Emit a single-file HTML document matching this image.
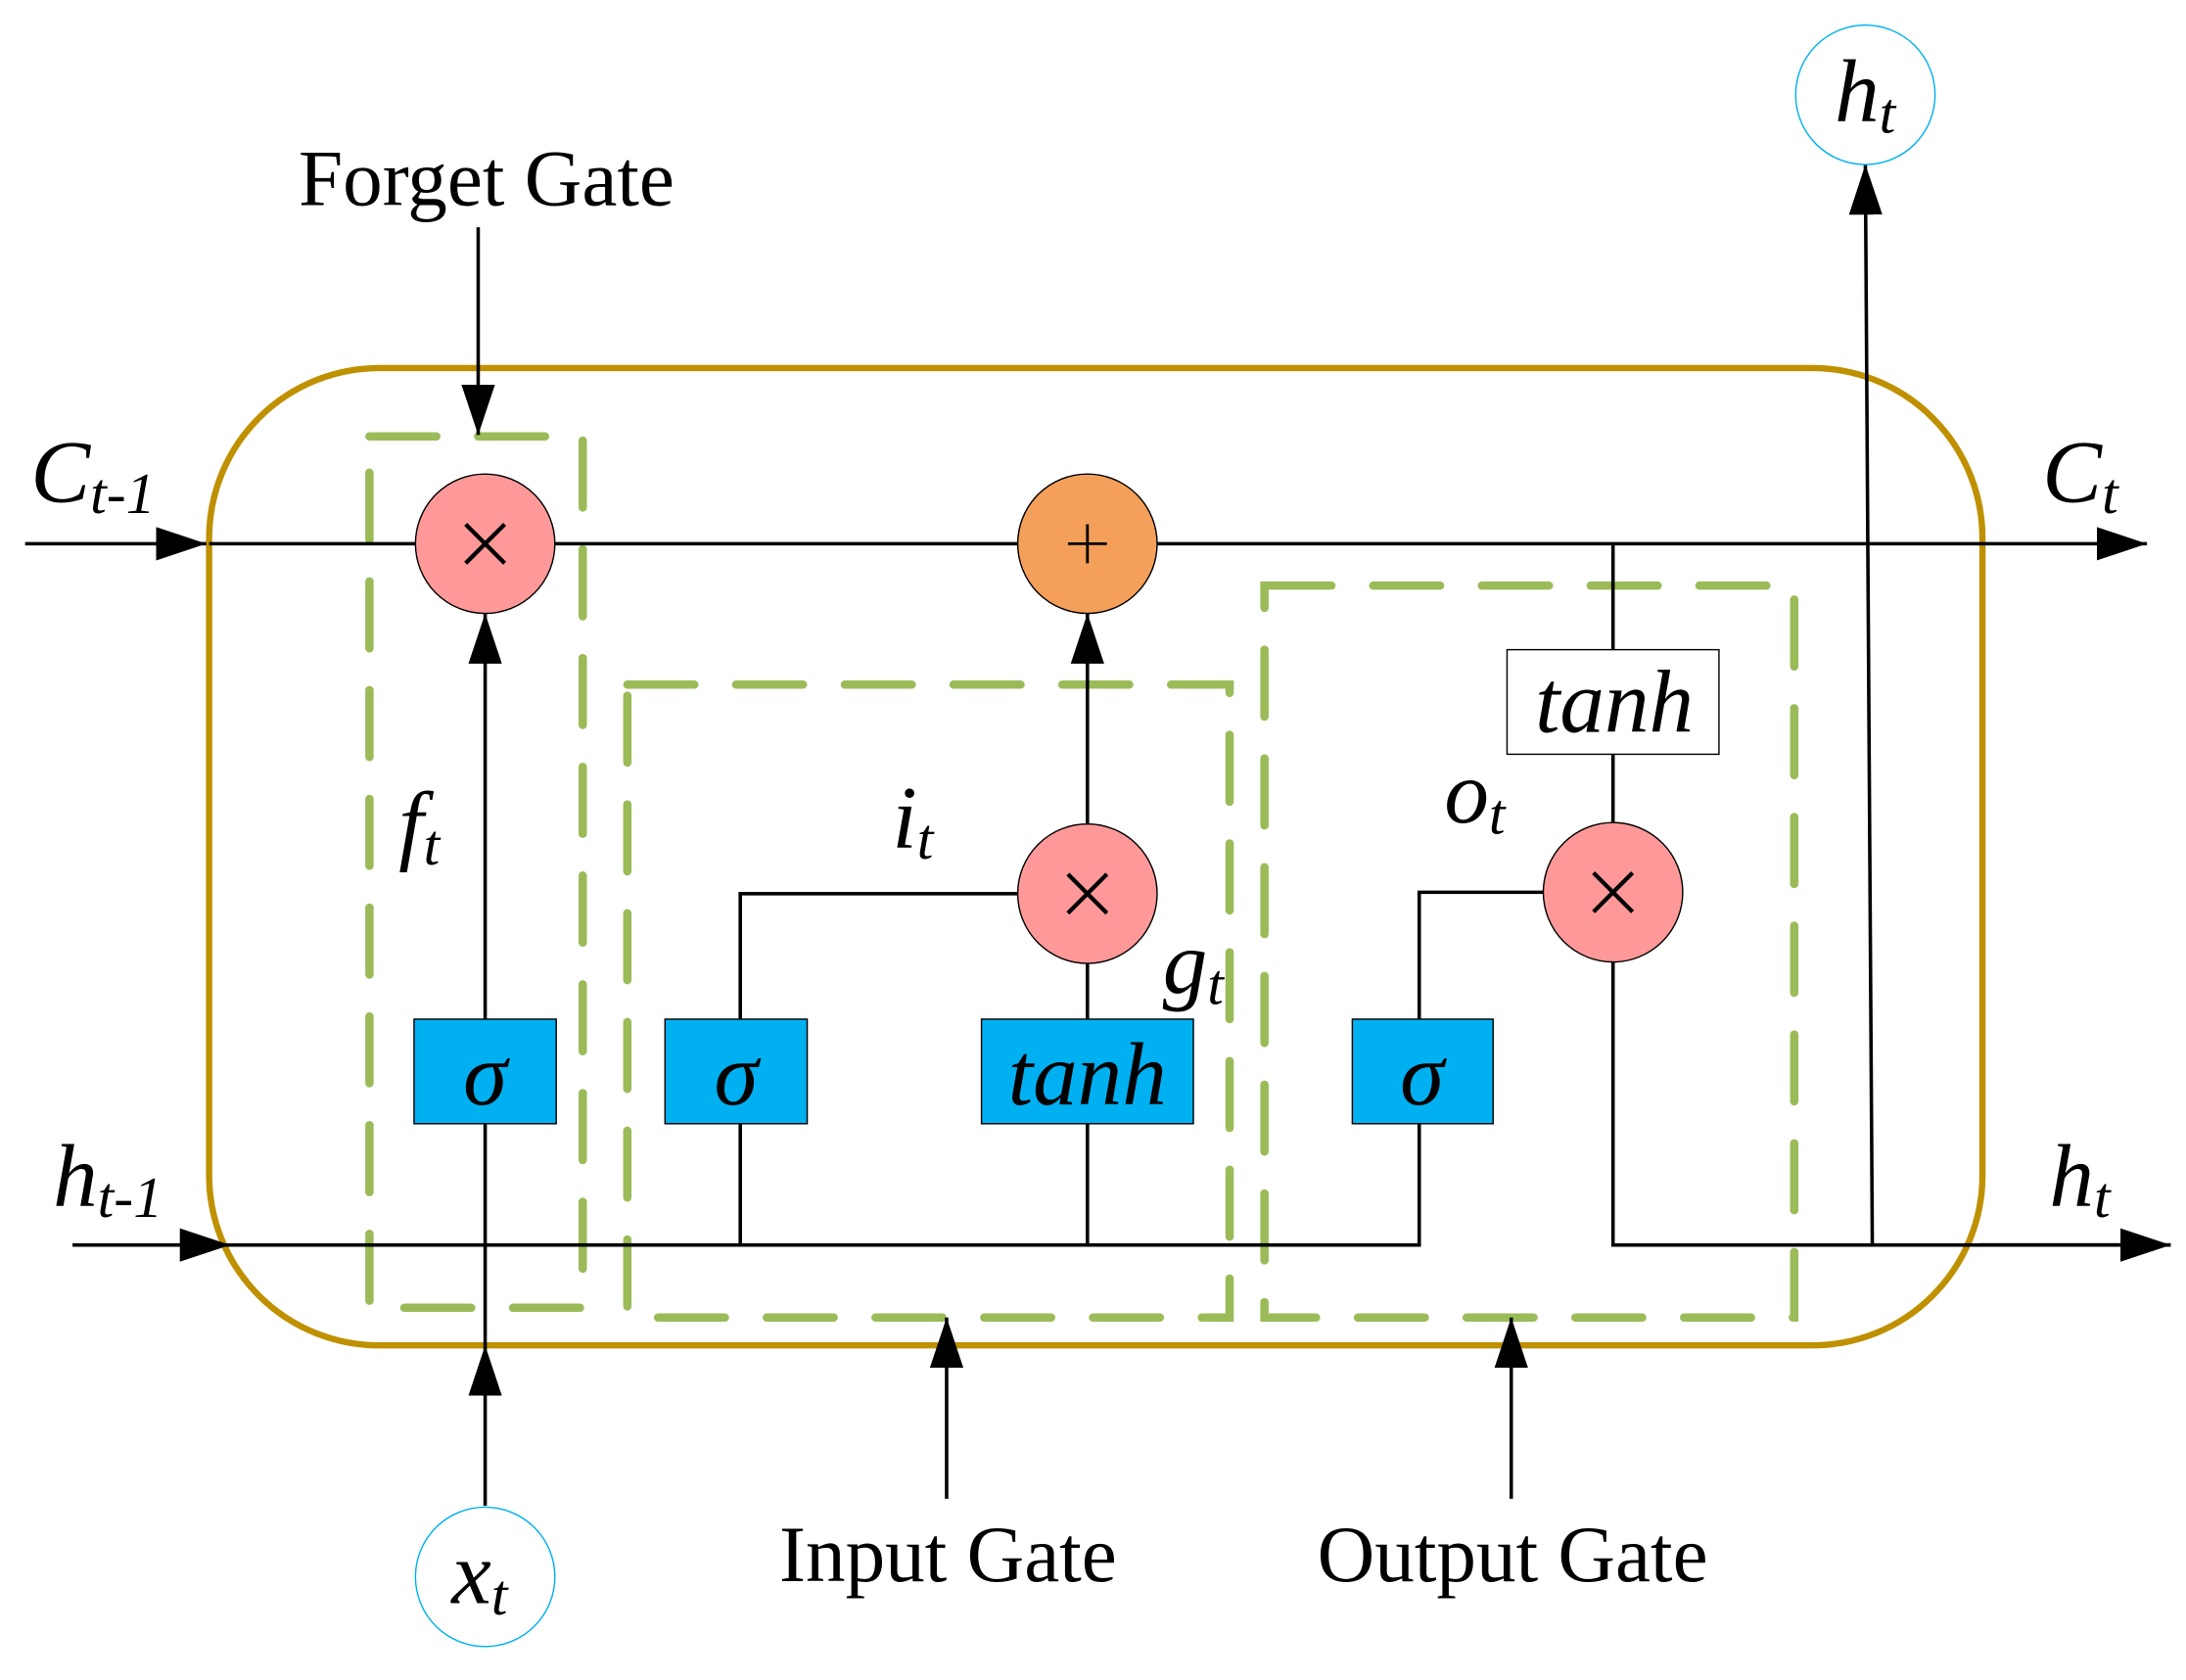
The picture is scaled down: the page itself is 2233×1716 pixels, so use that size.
<!DOCTYPE html>
<html><head><meta charset="utf-8"><style>html,body{margin:0;padding:0;background:#fff}svg{display:block}</style></head>
<body>
<svg width="2233" height="1716" viewBox="0 0 1568 1205" preserveAspectRatio="none" xmlns="http://www.w3.org/2000/svg" font-family="Liberation Serif, serif">
<defs>
<marker id="b" viewBox="0 0 36 24" refX="36" refY="12" markerWidth="36" markerHeight="24" markerUnits="userSpaceOnUse" orient="auto">
<path d="M0,0 L36,12 L0,24 Z" fill="#000"/></marker>
</defs>
<rect x="150" y="264" width="1272" height="701" rx="122" ry="122" fill="none" stroke="#BF9000" stroke-width="4.5"/>
<g stroke="#9BBB59" stroke-width="6" fill="none" stroke-dasharray="48 30" stroke-linecap="round">
<rect x="265" y="313" width="153" height="625"/>
<rect x="450" y="491" width="432" height="454"/>
<rect x="907" y="420" width="380" height="525"/>
</g>
<g stroke="#000" stroke-width="2.5" fill="none">
<line x1="18" y1="390" x2="148" y2="390" marker-end="url(#b)"/>
<line x1="150" y1="390" x2="1540" y2="390" marker-end="url(#b)"/>
<line x1="52" y1="893" x2="165" y2="893" marker-end="url(#b)"/>
<polyline points="165,893 1018,893 1018,806"/>
<polyline points="1018,731 1018,640 1107,640"/>
<polyline points="1157,690 1157,893 1557,893" />
<line x1="1420" y1="893" x2="1557" y2="893" marker-end="url(#b)"/>
<line x1="1157" y1="390" x2="1157" y2="466"/>
<line x1="1157" y1="541" x2="1157" y2="590"/>
<line x1="1343" y1="893" x2="1338" y2="118" marker-end="url(#b)"/>
<line x1="348" y1="1080" x2="348" y2="965" marker-end="url(#b)"/>
<line x1="348" y1="965" x2="348" y2="806"/>
<line x1="348" y1="731" x2="348" y2="440" marker-end="url(#b)"/>
<line x1="343" y1="163" x2="343" y2="312" marker-end="url(#b)"/>
<polyline points="531,893 531,641 730,641"/>
<line x1="780" y1="893" x2="780" y2="806"/>
<line x1="780" y1="731" x2="780" y2="691"/>
<line x1="780" y1="591" x2="780" y2="440" marker-end="url(#b)"/>
<line x1="679" y1="1075" x2="679" y2="945" marker-end="url(#b)"/>
<line x1="1084" y1="1075" x2="1084" y2="945" marker-end="url(#b)"/>
</g>
<g stroke="#000" stroke-width="1">
<circle cx="348" cy="390" r="50" fill="#FF9999"/>
<circle cx="780" cy="390" r="50" fill="#F4A05A"/>
<circle cx="780" cy="641" r="50" fill="#FF9999"/>
<circle cx="1157" cy="640" r="50" fill="#FF9999"/>
<rect x="297" y="731" width="102" height="75" fill="#00B0F0"/>
<rect x="477" y="731" width="102" height="75" fill="#00B0F0"/>
<rect x="704" y="731" width="152" height="75" fill="#00B0F0"/>
<rect x="970" y="731" width="101" height="75" fill="#00B0F0"/>
<rect x="1081" y="466" width="152" height="75" fill="#fff"/>
</g>
<circle cx="348" cy="1131" r="50" fill="#fff" stroke="#00B0F0" stroke-width="1"/>
<circle cx="1338" cy="68" r="50" fill="#fff" stroke="#00B0F0" stroke-width="1"/>
<g stroke="#000" stroke-width="3">
<path d="M334,376 L362,404 M362,376 L334,404"/>
<path d="M766,627 L794,655 M794,627 L766,655"/>
<path d="M1143,626 L1171,654 M1171,626 L1143,654"/>
<path d="M766,390 L794,390 M780,376 L780,404" stroke-width="2"/>
</g>
<g font-size="57" text-anchor="middle" fill="#000">
<text x="349" y="147">Forget Gate</text>
<text x="680" y="1134">Input Gate</text>
<text x="1085" y="1134">Output Gate</text>
</g>
<g font-style="italic" fill="#000" font-size="64">
<text x="348" y="792" text-anchor="middle">σ</text>
<text x="528" y="792" text-anchor="middle">σ</text>
<text x="1020" y="792" text-anchor="middle">σ</text>
<text x="780" y="792" text-anchor="middle">tanh</text>
<text x="1158" y="525" text-anchor="middle">tanh</text>
<text x="22" y="360">C<tspan font-size="42" dy="8">t-1</tspan></text>
<text x="1465" y="360">C<tspan font-size="42" dy="8">t</tspan></text>
<text x="38" y="865">h<tspan font-size="42" dy="8">t-1</tspan></text>
<text x="1470" y="865">h<tspan font-size="42" dy="8">t</tspan></text>
<text x="286" y="612">f<tspan font-size="42" dy="8">t</tspan></text>
<text x="640" y="608">i<tspan font-size="42" dy="8">t</tspan></text>
<text x="834" y="712">g<tspan font-size="42" dy="8">t</tspan></text>
<text x="1036" y="590">o<tspan font-size="42" dy="8">t</tspan></text>
<text x="324" y="1150">x<tspan font-size="42" dy="8">t</tspan></text>
<text x="1316" y="87">h<tspan font-size="42" dy="8">t</tspan></text>
</g>
</svg>
</body></html>
